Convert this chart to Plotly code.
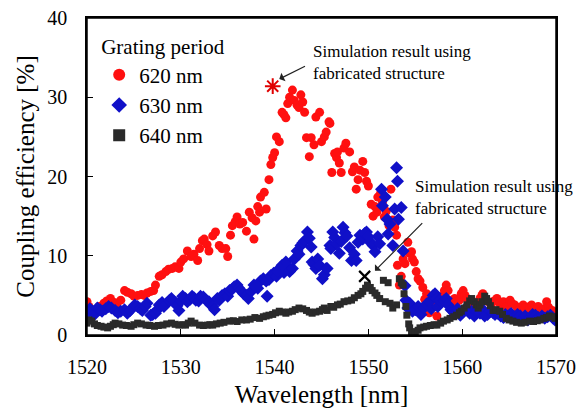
import plotly.graph_objects as go

# ---- data ----
wl_620 = [1520.0,1520.2,1520.5,1520.9,1521.3,1521.8,1522.1,1522.5,1522.9,1523.2,1523.6,1524.0,1524.3,1524.7,1525.0,1525.4,1525.8,1526.1,1526.4,1526.8,1527.1,1527.3,1527.7,1528.0,1528.4,1528.7,1529.1,1529.4,1529.8,1530.0,1530.3,1530.7,1531.1,1531.4,1531.8,1532.0,1532.3,1532.5,1532.8,1533.0,1533.4,1533.7,1534.1,1534.4,1534.8,1535.0,1535.3,1535.5,1535.8,1536.0,1536.3,1536.6,1537.0,1537.3,1537.6,1537.8,1538.0,1538.2,1538.4,1538.5,1538.9,1539.1,1539.4,1539.6,1539.8,1540.0,1540.2,1540.5,1540.8,1541.0,1541.2,1541.4,1541.6,1541.9,1542.1,1542.4,1542.6,1542.8,1543.0,1543.2,1543.4,1543.7,1543.9,1544.2,1544.4,1544.8,1545.0,1545.3,1545.5,1545.8,1545.9,1546.1,1546.4,1546.6,1546.7,1546.9,1547.1,1547.4,1547.6,1548.0,1548.3,1548.5,1548.7,1548.9,1549.1,1549.4,1549.6,1549.8,1550.0,1550.3,1550.5,1550.7,1550.9,1551.0,1551.3,1551.5,1551.7,1551.9,1552.2,1552.4,1552.6,1552.8,1553.0,1553.1,1553.3,1553.5,1553.7,1553.9,1554.2,1554.4,1554.6,1554.7,1554.9,1555.1,1555.3,1555.5,1555.8,1556.0,1556.2,1556.5,1556.7,1556.9,1557.1,1557.3,1557.6,1557.9,1558.1,1558.3,1558.5,1558.8,1559.0,1559.2,1559.4,1559.7,1559.9,1560.1,1560.3,1560.5,1560.8,1561.0,1561.3,1561.6,1561.9,1562.1,1562.2,1562.5,1562.8,1563.1,1563.4,1563.7,1564.0,1564.2,1564.4,1564.7,1565.1,1565.3,1565.6,1565.9,1566.2,1566.5,1566.7,1567.0,1567.2,1567.4,1567.7,1568.1,1568.4,1568.7,1569.0,1569.2,1569.4,1569.6,1569.9]
ce_620 = [4.2,3.6,3.2,3.0,3.6,4.0,4.3,4.6,4.1,4.0,4.4,5.6,5.4,5.2,4.9,5.0,5.1,5.0,5.3,5.5,5.6,6.3,7.4,7.6,8.0,8.3,8.4,8.6,8.4,9.2,9.6,10.6,9.9,10.2,9.4,10.9,11.9,12.1,11.4,10.6,12.5,13.0,11.3,10.9,10.9,9.9,12.6,13.8,14.3,14.9,14.0,14.2,13.1,15.5,14.8,12.1,14.4,16.2,15.5,17.4,18.0,15.9,19.6,21.5,22.4,23.0,25.0,24.4,28.1,27.8,27.4,29.2,30.0,30.9,29.6,29.0,28.7,30.3,29.4,28.1,24.9,22.5,24.9,24.0,27.5,28.1,24.4,25.0,25.6,26.9,26.7,20.5,22.9,22.4,23.1,21.7,20.5,23.6,24.2,23.1,20.6,21.2,18.4,19.6,20.8,21.9,20.5,19.4,18.8,16.5,15.0,16.2,15.5,17.4,17.9,16.8,14.9,15.6,13.8,18.4,14.5,13.6,12.6,8.8,6.3,7.4,9.6,9.0,11.7,10.3,10.5,9.6,9.2,8.0,7.1,6.8,6.0,4.5,5.2,2.8,4.6,3.9,3.6,2.4,4.0,4.9,5.6,6.3,5.6,4.3,4.0,4.6,4.2,4.4,5.2,5.6,5.0,4.6,4.0,3.6,3.8,4.1,4.6,5.0,5.2,4.5,4.2,3.9,4.3,4.6,4.0,3.8,4.2,3.6,4.4,4.0,3.8,3.4,3.5,3.8,3.4,3.0,3.6,3.8,3.2,3.6,3.0,3.3,4.2,3.5,3.1,3.1,2.8]

wl_630 = [1520.0,1520.3,1520.5,1520.8,1521.1,1521.4,1521.6,1522.0,1522.3,1522.6,1523.0,1523.3,1523.6,1524.0,1524.3,1524.6,1524.8,1525.1,1525.4,1525.7,1525.9,1526.2,1526.4,1526.8,1527.0,1527.3,1527.5,1527.7,1528.0,1528.2,1528.5,1528.8,1529.0,1529.3,1529.6,1529.8,1530.0,1530.2,1530.5,1530.7,1531.0,1531.2,1531.4,1531.6,1531.9,1532.1,1532.4,1532.7,1533.0,1533.2,1533.4,1533.6,1533.9,1534.1,1534.4,1534.7,1535.0,1535.2,1535.5,1535.7,1536.0,1536.2,1536.4,1536.7,1537.0,1537.2,1537.5,1537.8,1538.0,1538.2,1538.5,1538.8,1539.1,1539.2,1539.4,1539.6,1539.9,1540.2,1540.3,1540.6,1540.8,1541.0,1541.2,1541.4,1541.6,1541.9,1542.1,1542.4,1542.6,1542.8,1543.0,1543.2,1543.5,1543.7,1543.9,1544.0,1544.2,1544.4,1544.6,1544.8,1545.1,1545.3,1545.5,1545.6,1545.9,1546.0,1546.2,1546.4,1546.6,1546.9,1547.1,1547.3,1547.5,1547.7,1548.0,1548.2,1548.5,1548.7,1548.9,1549.1,1549.4,1549.6,1549.8,1550.0,1550.2,1550.5,1550.7,1551.0,1551.2,1551.4,1551.5,1551.8,1552.0,1552.1,1552.3,1552.6,1552.8,1553.0,1553.1,1553.2,1553.5,1553.7,1553.9,1554.0,1554.2,1554.4,1554.7,1555.0,1555.3,1555.6,1555.9,1556.2,1556.5,1556.7,1556.9,1557.1,1557.3,1557.4,1557.6,1558.1,1558.3,1558.5,1558.8,1559.0,1559.2,1559.5,1559.8,1560.1,1560.4,1560.8,1561.0,1561.3,1561.6,1561.9,1562.1,1562.4,1562.7,1563.0,1563.3,1563.5,1563.8,1564.1,1564.4,1564.6,1564.9,1565.2,1565.5,1565.9,1566.2,1566.5,1566.7,1567.0,1567.3,1567.5,1567.8,1568.1,1568.5,1568.8,1569.1,1569.4,1569.7,1569.9]
ce_630 = [2.75,3.3,3.1,2.6,3.4,3.2,3.0,3.3,3.6,3.4,3.1,2.8,3.0,3.2,2.75,3.1,3.4,3.8,3.6,3.3,3.1,3.6,4.0,2.5,2.6,2.75,3.2,3.8,4.1,3.6,4.0,4.4,4.6,4.2,3.7,3.1,4.3,4.9,4.6,4.2,4.5,4.9,4.7,4.4,4.3,4.9,4.8,4.4,4.2,3.8,3.6,3.2,4.6,4.4,5.0,5.2,4.9,5.6,5.8,6.1,6.3,5.9,5.6,5.2,5.0,4.6,5.5,6.3,6.1,5.9,6.8,7.1,6.8,4.9,7.0,7.5,7.8,7.4,8.0,8.5,8.8,7.9,9.2,8.6,8.0,8.4,9.6,10.6,10.2,11.3,11.6,11.9,13.0,12.2,11.1,9.2,8.9,8.4,9.6,8.8,7.1,7.6,8.4,8.4,11.3,10.9,13.0,12.3,11.5,10.3,11.8,13.6,12.9,12.5,11.0,9.4,10.2,9.4,11.7,12.6,12.1,12.8,13.0,12.4,11.7,11.3,10.5,12.4,11.5,18.4,16.3,17.4,14.6,12.75,14.0,11.3,15.9,21.1,19.4,14.6,16.1,10.6,6.2,4.4,3.4,4.0,3.0,3.2,3.6,2.6,3.4,3.9,4.2,3.3,5.0,5.2,4.6,3.6,4.4,4.4,4.6,3.8,3.2,3.0,2.75,3.3,2.5,2.9,3.4,2.75,3.0,2.4,2.9,2.75,3.3,2.4,2.6,3.0,2.8,2.6,2.75,2.4,2.2,2.6,2.4,2.7,2.3,2.6,2.4,2.1,2.4,1.9,2.2,2.6,2.5,2.2,2.4,2.1,2.3,2.5,2.1,1.9]

wl_640 = [1520.0,1520.2,1520.5,1520.8,1521.1,1521.5,1521.8,1522.2,1522.5,1522.8,1523.0,1523.4,1523.8,1524.2,1524.7,1525.0,1525.4,1525.8,1526.3,1526.7,1527.2,1527.6,1528.1,1528.5,1529.0,1529.4,1529.8,1530.2,1530.5,1530.8,1531.1,1531.5,1532.0,1532.4,1532.8,1533.1,1533.4,1533.8,1534.2,1534.6,1535.2,1535.6,1536.0,1536.5,1537.0,1537.4,1537.9,1538.4,1538.8,1539.1,1539.4,1539.8,1540.1,1540.5,1540.8,1541.2,1541.5,1541.9,1542.2,1542.6,1543.0,1543.4,1543.7,1544.0,1544.4,1544.8,1545.1,1545.3,1545.6,1546.0,1546.3,1546.7,1547.0,1547.4,1547.8,1548.2,1548.5,1548.9,1549.2,1549.4,1549.7,1549.9,1550.2,1550.4,1550.7,1550.9,1551.2,1551.6,1551.8,1552.1,1552.3,1552.6,1553.0,1553.3,1553.5,1553.7,1553.8,1554.0,1554.1,1554.3,1554.4,1554.6,1554.7,1555.0,1555.3,1555.5,1555.9,1556.2,1556.6,1557.0,1557.3,1557.7,1558.0,1558.4,1558.7,1559.1,1559.4,1559.7,1559.9,1560.2,1560.5,1560.8,1561.0,1561.3,1561.5,1561.7,1561.9,1562.1,1562.4,1562.6,1562.8,1563.0,1563.3,1563.6,1564.0,1564.3,1564.7,1565.0,1565.4,1565.8,1566.3,1566.7,1567.2,1567.6,1568.0,1568.3,1568.7,1569.0,1569.3,1569.7,1569.9]
ce_640 = [1.5,1.9,1.75,1.4,1.2,1.1,1.0,0.9,1.1,1.3,1.5,1.4,1.25,1.2,1.1,1.3,1.5,1.4,1.25,1.2,1.1,1.2,1.25,1.4,1.5,1.35,1.25,1.3,1.25,1.5,1.75,1.5,1.25,1.2,1.25,1.3,1.25,1.4,1.5,1.6,1.75,1.8,1.7,1.9,1.9,2.0,2.2,2.1,2.3,2.4,2.5,2.6,2.8,3.0,2.9,2.75,2.9,3.0,3.2,3.4,3.3,3.1,2.9,2.75,2.9,3.0,3.2,3.4,3.1,3.6,3.5,3.8,3.9,4.2,4.3,4.4,4.7,5.0,5.2,5.5,5.9,6.3,6.0,5.6,5.3,5.0,4.6,6.9,4.2,6.6,4.0,3.4,3.8,7.1,6.6,6.3,5.2,3.6,2.5,1.4,0.9,0.4,0.25,0.4,0.6,0.9,1.0,1.1,1.2,1.3,1.25,1.5,1.75,1.9,2.1,2.3,2.5,2.8,3.0,3.4,3.8,4.3,4.6,4.2,3.8,3.4,3.8,4.2,4.9,4.6,4.2,3.7,3.1,3.2,3.0,2.6,2.1,1.9,1.75,1.6,1.5,1.6,1.75,1.7,1.8,1.9,2.1,2.2,2.4,2.3,2.1]

# simulation results (fabricated structure)
sim_620_wl = [1539.8]
sim_620_ce = [31.4]
sim_640_wl = [1549.6]
sim_640_ce = [7.4]

x_ticks = [1520, 1530, 1540, 1550, 1560, 1570]
y_ticks = [0, 10, 20, 30, 40]

FONT = "Liberation Serif"

fig = go.Figure()
fig.add_trace(go.Scatter(x=wl_620, y=ce_620, mode="markers", name="620 nm",
                         legendgroup="a",
                         marker=dict(symbol="circle", size=9, color="#ff1010",
                                     line=dict(width=0))))
fig.add_trace(go.Scatter(x=wl_630, y=ce_630, mode="markers", name="630 nm",
                         legendgroup="b",
                         marker=dict(symbol="diamond", size=10, color="#1010c8",
                                     line=dict(width=0))))
fig.add_trace(go.Scatter(x=wl_640, y=ce_640, mode="markers", name="640 nm",
                         legendgroup="c",
                         marker=dict(symbol="square", size=7, color="#2a2a2a",
                                     line=dict(width=0))))
fig.add_trace(go.Scatter(x=sim_620_wl, y=sim_620_ce, mode="markers", showlegend=False,
                         marker=dict(symbol="asterisk-open", size=13, color="#e00000",
                                     line=dict(width=2, color="#e00000"))))
fig.add_trace(go.Scatter(x=sim_640_wl, y=sim_640_ce, mode="markers", showlegend=False,
                         marker=dict(symbol="x-thin-open", size=11, color="#000000",
                                     line=dict(width=2.2, color="#000000"))))

ann_text = "Simulation result using<br>fabricated structure"
annotations = [
    dict(x=1543.9, y=34.4, xref="x", yref="y", text=ann_text, showarrow=False,
         xanchor="left", yanchor="middle", align="left",
         font=dict(family=FONT, size=17, color="black")),
    dict(x=1554.75, y=17.3, xref="x", yref="y", text=ann_text, showarrow=False,
         xanchor="left", yanchor="middle", align="left",
         font=dict(family=FONT, size=17, color="black")),
    dict(x=1540.5, y=32.3, ax=1543.4, ay=34.0, xref="x", yref="y", axref="x", ayref="y",
         text="", showarrow=True, arrowhead=1, arrowsize=1.3, arrowwidth=1.2,
         arrowcolor="#222"),
    dict(x=1550.7, y=8.1, ax=1555.9, ay=14.3, xref="x", yref="y", axref="x", ayref="y",
         text="", showarrow=True, arrowhead=1, arrowsize=1.3, arrowwidth=1.2,
         arrowcolor="#222"),
]

fig.update_layout(
    width=586, height=410, autosize=False,
    margin=dict(l=87, r=30, t=18, b=75),
    paper_bgcolor="white", plot_bgcolor="white",
    font=dict(family=FONT, color="black"),
    showlegend=True,
    legend=dict(x=0.026, y=0.971, xanchor="left", yanchor="top",
                bgcolor="rgba(0,0,0,0)", borderwidth=0,
                title=dict(text="Grating period", font=dict(family=FONT, size=21)),
                font=dict(family=FONT, size=21), tracegroupgap=0,
                itemsizing="constant"),
    annotations=annotations,
    shapes=[dict(type="rect", xref="paper", yref="paper", x0=0, x1=1, y0=0, y1=1,
                 line=dict(color="black", width=1.5), fillcolor="rgba(0,0,0,0)",
                 layer="above")],
)
fig.update_xaxes(range=[1520, 1570], tickvals=x_ticks, ticks="inside", ticklen=6,
                 tickwidth=1, tickcolor="black", showline=True, linecolor="black",
                 linewidth=1.5, mirror=True, showgrid=False, zeroline=False,
                 automargin=False,
                 tickfont=dict(family=FONT, size=20), ticklabelstandoff=13,
                 title=dict(text="Wavelength [nm]", font=dict(family=FONT, size=25),
                            standoff=9))
fig.update_yaxes(range=[0, 40], tickvals=y_ticks, ticks="inside", ticklen=6,
                 tickwidth=1, tickcolor="black", showline=True, linecolor="black",
                 linewidth=1.5, mirror=True, showgrid=False, zeroline=False,
                 automargin=False,
                 tickfont=dict(family=FONT, size=20), ticklabelstandoff=14,
                 title=dict(text="Coupling efficiency [%]", font=dict(family=FONT, size=25),
                            standoff=6))

fig.write_html("out.html", config={"displayModeBar": False},
               post_script="document.body.style.margin='0';document.body.style.padding='0';")
